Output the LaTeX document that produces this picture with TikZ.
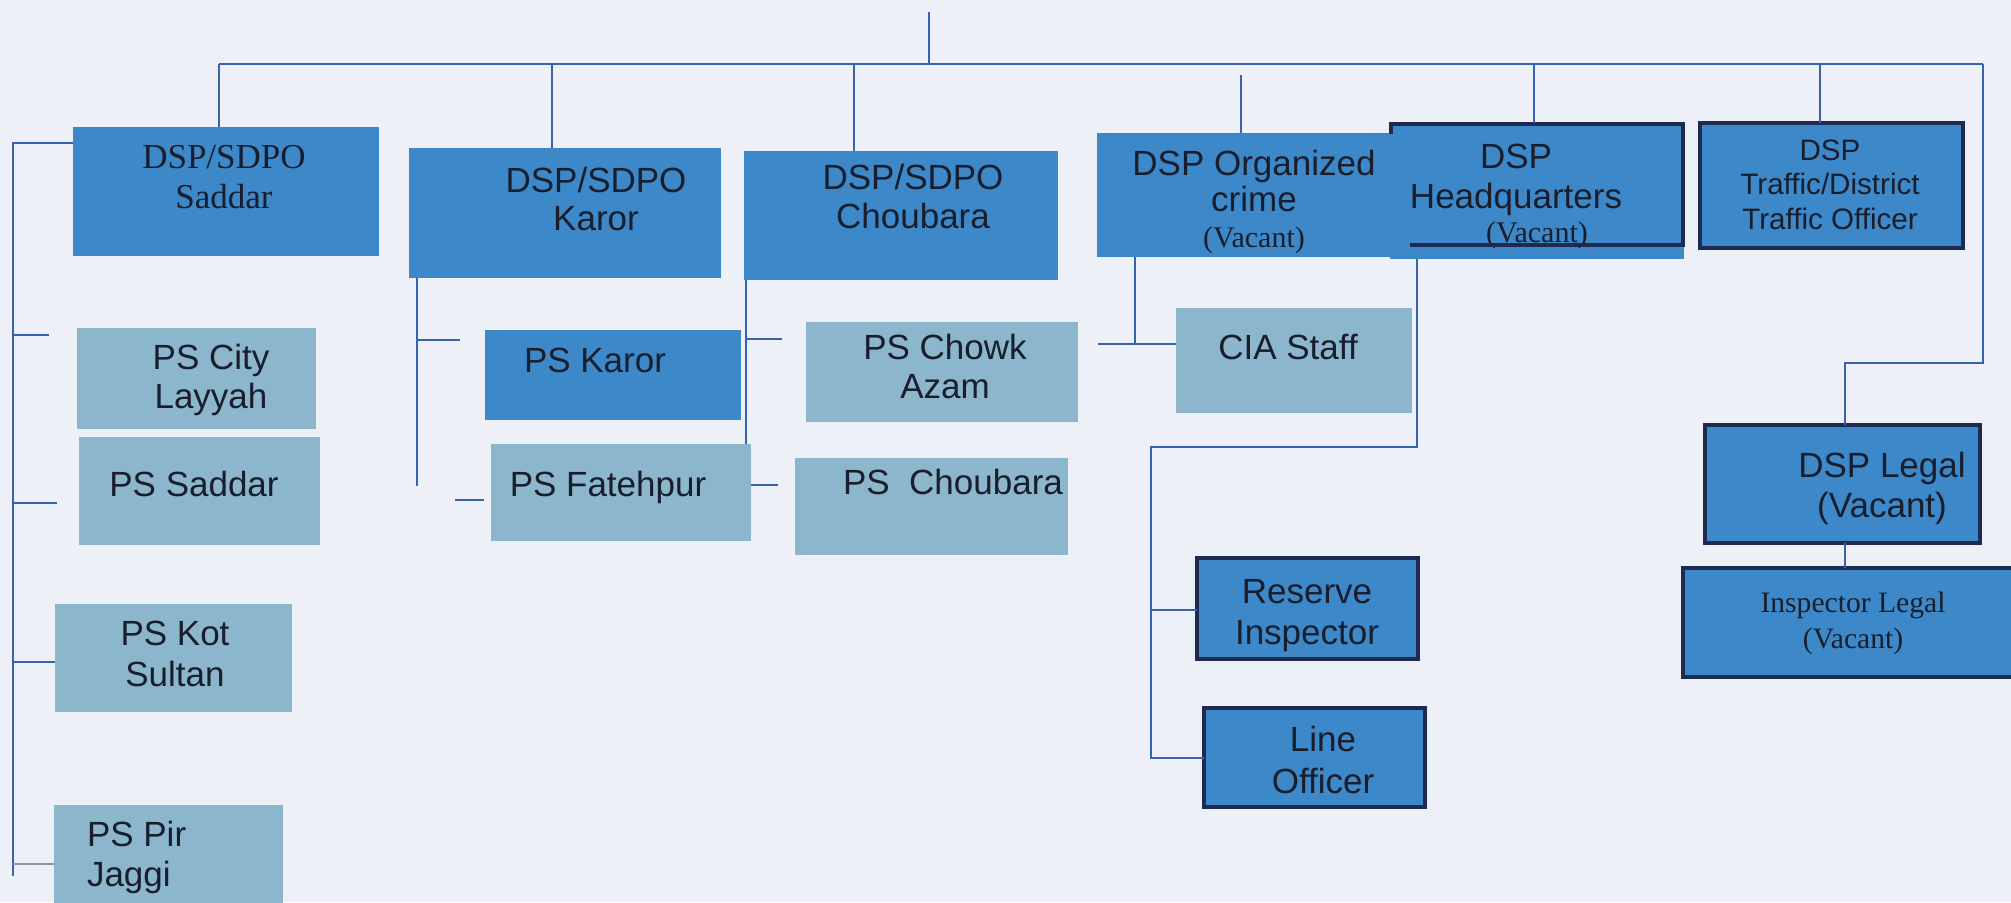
\documentclass[tikz,border=0pt]{standalone}
\usepackage{fontspec}
\setmainfont{Liberation Serif}
\setsansfont{Liberation Sans}
\usetikzlibrary{calc}
\definecolor{bg}{RGB}{238,240,248}
\definecolor{med}{RGB}{60,136,200}
\definecolor{lite}{RGB}{140,182,204}
\definecolor{lnc}{RGB}{55,100,170}
\definecolor{lng}{RGB}{140,150,165}
\definecolor{dkb}{RGB}{30,42,80}
\definecolor{tx}{RGB}{25,30,45}
\newcommand\bx[6]{\node[#2, minimum width={(#5-#3)*0.5pt}, minimum height={(#6-#4)*0.5pt}] (#1) at ({(#3+#5)/2},{(#4+#6)/2}) {};}
\begin{document}
\begin{tikzpicture}[x=0.5pt,y=-0.5pt,
  medbox/.style={fill=med, inner sep=0pt, outer sep=0pt},
  litebox/.style={fill=lite, inner sep=0pt, outer sep=0pt},
  dkbox/.style={fill=med, draw=dkb, line width=2pt, inner sep=0pt, outer sep=0pt},
  conn/.style={draw=lnc, line width=1.3pt},
  txs/.style={inner sep=0pt, outer sep=0pt, align=center, anchor=north, text=tx, font=\sffamily\fontsize{17.5}{#1}\selectfont},
  txs/.default=20,
  txr/.style={inner sep=0pt, outer sep=0pt, align=center, anchor=north, text=tx, font=\rmfamily\fontsize{17.5}{#1}\selectfont},
  txr/.default=20]
\fill[bg] (0,0) rectangle (2011,902);
\useasboundingbox (0,0) rectangle (2011,902);
% boxes
\bx{sad}{medbox}{73}{127}{379}{256}
\bx{kar}{medbox}{409}{148}{721}{278}
\bx{cho}{medbox}{744}{151}{1058}{280}
\bx{org}{medbox}{1097}{133}{1393}{257}
\bx{hq}{medbox}{1390}{123}{1684}{259}
\bx{trf}{dkbox}{1700}{123}{1963}{248}
\bx{city}{litebox}{77}{328}{316}{429}
\bx{psad}{litebox}{79}{437}{320}{545}
\bx{kot}{litebox}{55}{604}{292}{712}
\bx{pir}{litebox}{54}{805}{283}{912}
\bx{pkar}{medbox}{485}{330}{741}{420}
\bx{fat}{litebox}{491}{444}{751}{541}
\bx{chowk}{litebox}{806}{322}{1078}{422}
\bx{pcho}{litebox}{795}{458}{1068}{555}
\bx{cia}{litebox}{1176}{308}{1412}{413}
\bx{res}{dkbox}{1197}{558}{1418}{659}
\bx{lofc}{dkbox}{1204}{708}{1425}{807}
\bx{legal}{dkbox}{1705}{425}{1980}{543}
\bx{insp}{dkbox}{1683}{568}{2024}{677}
% texts
\node[txr] (sadT) at (224,145.4) {DSP/SDPO\\Saddar};
\node[txs=19] (karT) at (596,167.5) {DSP/SDPO\\Karor};
\node[txs=19.5] (choT) at (913,164) {DSP/SDPO\\Choubara};
\node[txs=18] (orgT) at (1254,150.5) {DSP Organized\\crime\\{\rmfamily\fontsize{15}{18}\selectfont (Vacant)}};
\node[txs=20] (hqT) at (1516,144.5) {DSP\\Headquarters\\[-3pt]{\hspace*{21pt}\rmfamily\fontsize{15}{18}\selectfont (Vacant)}};
\node[txs, font=\sffamily\fontsize{14.8}{17.25}\selectfont] (trfT) at (1830,139.4) {DSP\\Traffic/District\\Traffic Officer};
\node[txs=19.5] (cityT) at (211,344.5) {PS City\\Layyah};
\node[txs] (psadT) at (194,471.5) {PS Saddar};
\node[txs=20.5] (kotT) at (175,621.5) {PS Kot\\Sultan};
\node[txs, align=left, anchor=north west] (pirT) at (87,821.5) {PS Pir\\Jaggi};
\node[txs] (pkarT) at (595,348.5) {PS Karor};
\node[txs] (fatT) at (608,471.5) {PS Fatehpur};
\node[txs=19.5] (chowkT) at (945,334.5) {PS Chowk\\Azam};
\node[txs] (pchoT) at (953,469.5) {PS~~Choubara};
\node[txs] (ciaT) at (1288,334.5) {CIA Staff};
\node[txs=20.5] (resT) at (1307,579.5) {Reserve\\Inspector};
\node[txs=21] (lofcT) at (1323,726.5) {Line\\Officer};
\node[txs] (legalT) at (1882,452.5) {DSP Legal\\(Vacant)};
\node[txr, font=\rmfamily\fontsize{14.8}{18}\selectfont] (inspT) at (1853,592) {Inspector Legal\\(Vacant)};
% partial border of headquarters box
\draw[dkb, line width=2pt] ($(hq.north west)+(1,11)$) -- ($(hq.north west)+(1,1)$) -- ($(hq.north east)+(-1,1)$) -- ($(hq.south east)+(-1,-14)$) -- ($(hq.south west)+(20,-14)$);
% connectors
\coordinate (top) at (929,12);
\coordinate (topj) at (929,64);
\coordinate (hl) at (219,64);
\coordinate (hr) at (1983,64);
\coordinate (dKar) at (552,64);
\coordinate (dCho) at (854,64);
\coordinate (dOrg) at (1241,75);
\coordinate (dHq) at (1534,64);
\coordinate (dTrf) at (1820,64);
\draw[conn] (top) -- (topj);
\draw[conn] (hl) -- (hr);
\draw[conn] (hl) -- (hl |- sad.north);
\draw[conn] (dKar) -- (dKar |- kar.north);
\draw[conn] (dCho) -- (dCho |- cho.north);
\draw[conn] (dOrg) -- (dOrg |- org.north);
\draw[conn] (dHq) -- (dHq |- hq.north);
\draw[conn] (dTrf) -- (dTrf |- trf.north);
% right branch
\coordinate (rA) at (1983,363);
\coordinate (rB) at (1845,363);
\draw[conn] (hr) -- (rA) -- (rB) -- (rB |- legal.north);
\draw[conn] (rB |- legal.south) -- (rB |- insp.north);
% saddar branch
\coordinate (sA) at (13,143);
\coordinate (sB) at (13,876);
\draw[conn] (sad.west |- sA) -- (sA) -- (sB);
\coordinate (s1) at (13,335); \coordinate (s1e) at (49,335);
\coordinate (s2) at (13,503); \coordinate (s2e) at (57,503);
\coordinate (s3) at (13,662);
\coordinate (s4) at (13,864);
\draw[conn] (s1) -- (s1e);
\draw[conn] (s2) -- (s2e);
\draw[conn] (s3) -- (s3 -| kot.west);
\draw[conn, draw=lng] (s4) -- (s4 -| pir.west);
% karor branch
\coordinate (kA) at (417,486);
\coordinate (k1) at (417,340); \coordinate (k1e) at (460,340);
\draw[conn] (kA |- kar.south) -- (kA);
\draw[conn] (k1) -- (k1e);
\coordinate (fd) at (455,500); \coordinate (fde) at (484,500);
\draw[conn] (fd) -- (fde);
% choubara branch
\coordinate (cA) at (746,300);
\draw[conn] (cA |- cho.south) -- (cA |- fat.north);
\coordinate (c1) at (746,339); \coordinate (c1e) at (782,339);
\draw[conn] (c1) -- (c1e);
\coordinate (c2) at (778,485);
\draw[conn] (c2 -| fat.east) -- (c2);
% organized crime branch
\coordinate (oA) at (1135,344);
\coordinate (oL) at (1098,344);
\draw[conn] (oA |- org.south) -- (oA);
\draw[conn] (oL) -- (oL -| cia.west);
% headquarters branch
\coordinate (hA) at (1417,447);
\coordinate (hB) at (1151,447);
\coordinate (hC) at (1151,758);
\coordinate (hD) at (1151,610);
\draw[conn] (hA |- hq.south) -- (hA) -- (hB) -- (hC) -- (hC -| lofc.west);
\draw[conn] (hD) -- (hD -| res.west);
\end{tikzpicture}
\end{document}
